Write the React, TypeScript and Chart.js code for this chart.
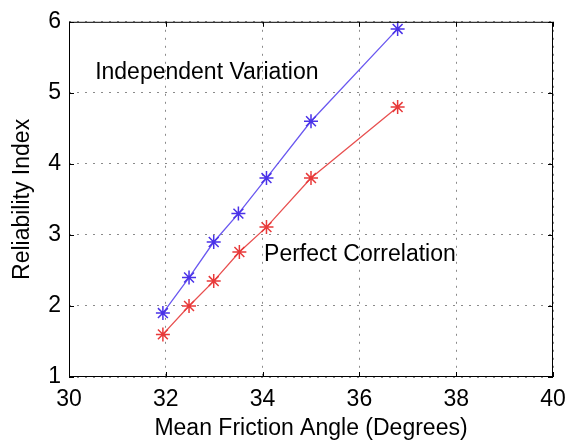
import React, { useEffect, useRef } from "react";
import { Chart, registerables } from "chart.js";

Chart.register(...registerables);

const independentX = [31.94, 32.48, 32.99, 33.5, 34.08, 35.0, 36.79];
const independentY = [1.9, 2.4, 2.9, 3.3, 3.8, 4.6, 5.9];
const correlationX = [31.94, 32.48, 32.99, 33.52, 34.08, 35.0, 36.79];
const correlationY = [1.6, 2.0, 2.35, 2.76, 3.11, 3.8, 4.8];

const xTitle = "Mean Friction Angle (Degrees)";
const yTitle = "Reliability Index";
const annotations = [
  { text: "Independent Variation", x: 30.54, y: 5.29 },
  { text: "Perfect Correlation", x: 34.03, y: 2.72 },
];

const FONT = "'Liberation Sans', Arial, Helvetica, sans-serif";
const BLUE = "#4a32e8";
const RED = "#e83a3a";

const boxPlugin = {
  id: "boxPlugin",
  afterDraw(chart: any) {
    const { ctx, chartArea, scales } = chart;
    const { left, right, top, bottom } = chartArea;
    ctx.save();
    ctx.strokeStyle = "#000";
    ctx.lineWidth = 1;
    ctx.strokeRect(left + 0.5, top + 0.5, right - left - 1, bottom - top - 1);
    const len = 5;
    ctx.beginPath();
    scales.x.ticks.forEach((t: any) => {
      const px = Math.round(scales.x.getPixelForValue(t.value)) + 0.5;
      ctx.moveTo(px, bottom);
      ctx.lineTo(px, bottom - len);
      ctx.moveTo(px, top);
      ctx.lineTo(px, top + len);
    });
    scales.y.ticks.forEach((t: any) => {
      const py = Math.round(scales.y.getPixelForValue(t.value)) + 0.5;
      ctx.moveTo(left, py);
      ctx.lineTo(left + len, py);
      ctx.moveTo(right, py);
      ctx.lineTo(right - len, py);
    });
    ctx.stroke();
    ctx.fillStyle = "#000";
    ctx.font = `23px ${FONT}`;
    ctx.textAlign = "left";
    ctx.textBaseline = "middle";
    annotations.forEach((a) => {
      ctx.fillText(a.text, scales.x.getPixelForValue(a.x), scales.y.getPixelForValue(a.y));
    });
    ctx.restore();
  },
};

export default function App() {
  const ref = useRef<HTMLCanvasElement>(null);
  useEffect(() => {
    const toPts = (xs: number[], ys: number[]) => xs.map((x, i) => ({ x, y: ys[i] }));
    const chart = new Chart(ref.current!, {
      type: "line",
      data: {
        datasets: [
          {
            label: "Independent Variation",
            data: toPts(independentX, independentY),
            borderColor: "#6a58f0",
            borderWidth: 1.3,
            pointStyle: "star",
            pointRadius: 7,
            pointBorderColor: BLUE,
            pointBorderWidth: 1.5,
            pointBackgroundColor: BLUE,
            tension: 0,
          },
          {
            label: "Perfect Correlation",
            data: toPts(correlationX, correlationY),
            borderColor: "#e85050",
            borderWidth: 1.3,
            pointStyle: "star",
            pointRadius: 7,
            pointBorderColor: RED,
            pointBorderWidth: 1.5,
            pointBackgroundColor: RED,
            tension: 0,
          },
        ],
      },
      options: {
        responsive: false,
        animation: false,
        layout: { padding: { top: 15, right: 24, left: 0, bottom: 0 } },
        plugins: { legend: { display: false }, tooltip: { enabled: false } },
        scales: {
          x: {
            type: "linear",
            min: 30,
            max: 40,
            ticks: { stepSize: 2, color: "#000", font: { family: FONT, size: 23 }, padding: 9, maxRotation: 0 },
            grid: { color: "#8a8a8a", drawTicks: false } as any,
            border: { display: false, dash: [2, 6] } as any,
            title: { display: true, text: xTitle, color: "#000", font: { family: FONT, size: 23 }, padding: { top: 0, bottom: 3 } },
            afterFit: (s: any) => { s.height = 68; },
          },
          y: {
            type: "linear",
            min: 1,
            max: 6,
            ticks: { stepSize: 1, color: "#000", font: { family: FONT, size: 23 }, padding: 8 },
            grid: { color: "#8a8a8a", drawTicks: false } as any,
            border: { display: false, dash: [2, 6] } as any,
            title: { display: true, text: yTitle, color: "#000", font: { family: FONT, size: 23 }, padding: { top: 9, bottom: 0 } },
            afterFit: (s: any) => { s.width = 69; },
          },
        },
      },
      plugins: [boxPlugin],
    });
    return () => chart.destroy();
  }, []);
  return (
    <div style={{ position: "fixed", left: 0, top: 0, width: 577, height: 445, background: "#fff" }}>
      <canvas ref={ref} width={577} height={445} />
    </div>
  );
}
